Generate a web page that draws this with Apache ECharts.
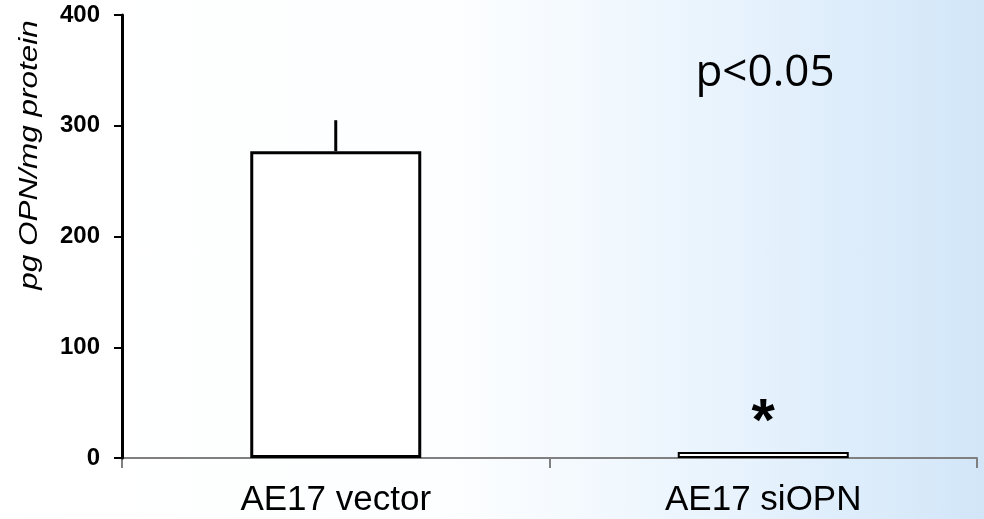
<!DOCTYPE html>
<html>
<head>
<meta charset="utf-8">
<script src="https://cdn.jsdelivr.net/npm/echarts@6/dist/echarts.min.js"></script>
<style>
  html, body { margin: 0; padding: 0; }
  #chart {
    width: 984px; height: 519px;
    background: linear-gradient(to right, #ffffff 0%, #fdfeff 45%, #f1f8fe 63%, #e3f0fc 80%, #d2e6f8 100%);
  }
</style>
</head>
<body>
<div id="chart"></div>
<script>
const categories = ['AE17 vector', 'AE17 siOPN'];
const means = [277, 5.5];
const errors = [28, 0];
const yTicks = { min: 0, max: 400, interval: 100 };
const yAxisTitle = 'pg OPN/mg protein';
const pText = 'p<0.05';
const sigMarks = ['', '*'];

const chart = echarts.init(document.getElementById('chart'), null, { renderer: 'canvas' });

const option = {
  backgroundColor: 'transparent',
  animation: false,
  grid: { left: 122, right: 7, top: 15, bottom: 61, containLabel: false },
  xAxis: {
    type: 'category',
    data: categories,
    boundaryGap: true,
    axisLine: { lineStyle: { color: '#808080', width: 2 } },
    axisTick: { show: true, length: 10, lineStyle: { color: '#808080', width: 2 } },
    axisLabel: { color: '#000', fontFamily: 'Liberation Sans, Arial', fontSize: 35, margin: 25 },
    z: 1
  },
  yAxis: {
    type: 'value',
    min: yTicks.min, max: yTicks.max, interval: yTicks.interval,
    splitLine: { show: false },
    axisLine: { show: true, lineStyle: { color: '#000', width: 3 } },
    axisTick: { show: true, length: 8, lineStyle: { color: '#000', width: 2 } },
    axisLabel: { color: '#000', fontFamily: 'Liberation Sans, Arial', fontWeight: 'bold', fontSize: 24, margin: 22 },
    z: 5
  },
  series: [
    {
      type: 'bar',
      data: means.map((v, i) => ({
        value: v,
        itemStyle: { borderWidth: i === 0 ? 3 : 2 },
        label: {
          show: sigMarks[i] !== '',
          formatter: sigMarks[i],
          position: 'top',
          distance: 6,
          color: '#000',
          fontFamily: 'Liberation Sans, Arial',
          fontWeight: 'bold',
          fontSize: 60,
          offset: [0, 8]
        }
      })),
      barWidth: '40%',
      itemStyle: { color: '#ffffff', borderColor: '#000', borderWidth: 3 },
      z: 3
    },
    {
      type: 'custom',
      data: means.map((v, i) => [i, v, errors[i]]),
      renderItem: function (params, api) {
        const i = api.value(0), m = api.value(1), e = api.value(2);
        if (!e) return null;
        const p0 = api.coord([i, m]);
        const p1 = api.coord([i, m + e]);
        return {
          type: 'line',
          shape: { x1: p0[0], y1: p0[1], x2: p1[0], y2: p1[1] },
          style: { stroke: '#000', lineWidth: 3 }
        };
      },
      z: 4
    }
  ],
  graphic: [
    {
      type: 'text',
      x: 30, y: 155,
      rotation: Math.PI / 2,
      scaleX: 1.21,
      style: {
        text: yAxisTitle,
        fill: '#000',
        fontFamily: 'Liberation Sans, Arial',
        fontStyle: 'italic',
        fontSize: 26,
        align: 'center',
        verticalAlign: 'middle'
      }
    },
    {
      type: 'text',
      x: 765, y: 73,
      style: {
        text: pText,
        fill: '#000',
        fontFamily: 'Open Sans',
        fontSize: 44,
        align: 'center',
        verticalAlign: 'middle'
      }
    }
  ]
};
chart.setOption(option);
</script>
</body>
</html>
